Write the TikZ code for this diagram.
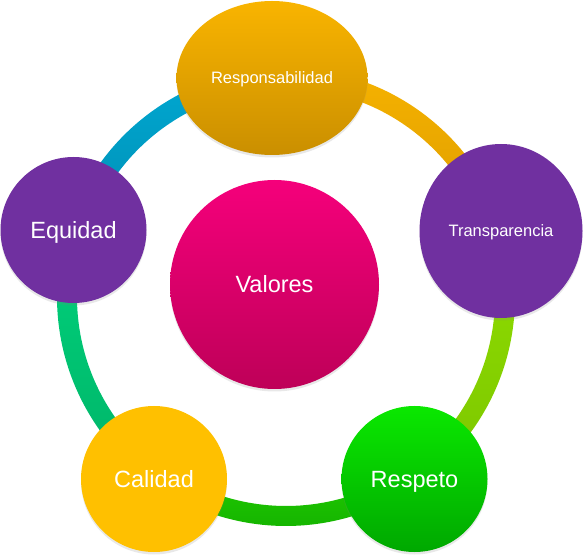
\documentclass[tikz,border=0pt]{standalone}
\usepackage{fontspec}
\setmainfont{Liberation Sans}
\usetikzlibrary{shapes.geometric,shadows}

\definecolor{resptop}{HTML}{F9B400}
\definecolor{respbot}{HTML}{CA8F00}
\definecolor{purple}{HTML}{7030A0}
\definecolor{gold}{HTML}{FFC000}
\definecolor{greentop}{HTML}{0AE800}
\definecolor{greenbot}{HTML}{00A800}
\definecolor{pinktop}{HTML}{F5007B}
\definecolor{pinkbot}{HTML}{BE0058}
% ring band colours
\definecolor{orangeA}{HTML}{F7B300}
\definecolor{orangeB}{HTML}{DC9C00}
\definecolor{limeA}{HTML}{90DE00}
\definecolor{limeB}{HTML}{7CC600}
\definecolor{grassA}{HTML}{22CC00}
\definecolor{grassB}{HTML}{12B000}
\definecolor{mintA}{HTML}{00D27C}
\definecolor{mintB}{HTML}{00B468}
\definecolor{skyA}{HTML}{00A8D2}
\definecolor{skyB}{HTML}{008FB4}

% one band of the ring, between two angles, shaded top to bottom
\newcommand\ringseg[4]{%
  \shade[top color=#3,bottom color=#4]
    ([shift={(286,257)}]#1:229pt) arc[start angle=#1,end angle=#2,radius=229pt]
    -- ([shift={(286,257)}]#2:209pt) arc[start angle=#2,end angle=#1,radius=209pt]
    -- cycle;}

\begin{document}
\begin{tikzpicture}[x=1pt,y=1pt,
  bubble/.style={circle,inner sep=0pt,text=white,align=center,
    drop shadow={shadow xshift=0pt,shadow yshift=-2.5pt,opacity=0.18}},
  oval/.style={ellipse,inner sep=0pt,text=white,align=center,
    drop shadow={shadow xshift=0pt,shadow yshift=-2.5pt,opacity=0.18}},
  bigtext/.style={font=\fontsize{23.5}{28}\selectfont,text height=16.8pt,text depth=0pt},
  smalltext/.style={font=\fontsize{16.5}{20}\selectfont,text height=11.8pt,text depth=0pt}]
\useasboundingbox (0,0) rectangle (583,554);

% ring bands
\ringseg{93.7}{17.1}{orangeA}{orangeB}
\ringseg{17.1}{-54.8}{limeA}{limeB}
\ringseg{-54.8}{-125.9}{grassA}{grassB}
\ringseg{-125.9}{-197.5}{mintA}{mintB}
\ringseg{162.5}{93.7}{skyA}{skyB}

% centre
\node[bubble,bigtext,minimum size=209pt,top color=pinktop,bottom color=pinkbot]
  (valores) at (274.5,269.5) {Valores};

% outer nodes
\node[oval,smalltext,minimum width=191pt,minimum height=154pt,top color=resptop,bottom color=respbot]
  (resp) at (272,476) {Responsabilidad};
\node[oval,smalltext,minimum width=163pt,minimum height=174pt,fill=purple]
  (transp) at (501,323) {Transparencia};
\node[bubble,bigtext,minimum size=146pt,top color=greentop,bottom color=greenbot]
  (respeto) at (414.5,75) {Respeto};
\node[bubble,bigtext,minimum size=146pt,fill=gold]
  (calidad) at (154,75) {Calidad};
\node[bubble,bigtext,minimum size=146pt,fill=purple]
  (equidad) at (73.5,324) {Equidad};
\end{tikzpicture}
\end{document}
